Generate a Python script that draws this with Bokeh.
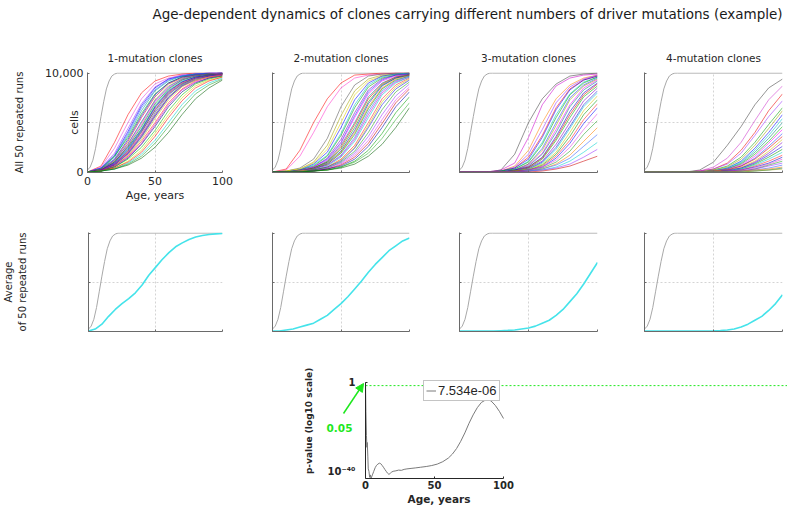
from math import pi, log10
from bokeh.plotting import figure
from bokeh.models import (FixedTicker, CustomJSTickFormatter, Legend, LegendItem, LinearAxis,
                          Arrow, NormalHead, Range1d)
from bokeh.core.properties import value
from bokeh.layouts import column, row
from bokeh.embed import file_html
from bokeh.resources import INLINE

# ---------------------------------------------------------------- data
TITLE = "Age-dependent dynamics of clones carrying different numbers of driver mutations (example)"
PANEL_TITLES = ["1-mutation clones", "2-mutation clones", "3-mutation clones", "4-mutation clones"]
ROW1_LABEL = "All 50 repeated runs"
ROW2_LABEL = "Average\nof 50 repeated runs"
Y_LABEL = "cells"
X_LABEL = "Age, years"
X_TICKS = [0, 50, 100]
Y_TICKS = [0, 5000, 10000]
Y_TICK_LABELS = {0: "0", 5000: "", 10000: "10,000"}

# ages (years) at which each run is read
AGES = [0, 10, 20, 30, 40, 50, 60, 70, 80, 90, 100]

# cell counts of each run, in thousands of cells
RUNS_1 = [
    [0, 0.6, 3.0, 5.8, 8.0, 9.2, 9.7, 9.9, 10, 10, 10],
    [0, 0.5, 2.4, 5.0, 7.4, 8.9, 9.5, 9.8, 9.9, 10, 10],
    [0, 0.4, 1.9, 4.4, 6.9, 8.6, 9.4, 9.8, 9.9, 10, 10],
    [0, 0.4, 1.7, 4.1, 6.7, 8.5, 9.4, 9.7, 9.9, 10, 10],
    [0, 0.4, 1.6, 3.9, 6.5, 8.3, 9.3, 9.7, 9.9, 10, 10],
    [0, 0.3, 1.5, 3.7, 6.2, 8.2, 9.2, 9.7, 9.9, 9.9, 10],
    [0, 0.3, 1.6, 3.5, 5.9, 7.9, 9.0, 9.6, 9.8, 9.9, 10],
    [0, 0.3, 1.3, 3.3, 5.7, 7.8, 9.0, 9.6, 9.8, 9.9, 10],
    [0, 0.2, 1.2, 3.1, 5.5, 7.6, 8.9, 9.5, 9.8, 9.9, 10],
    [0, 0.3, 1.1, 2.9, 5.0, 7.3, 8.7, 9.4, 9.7, 9.9, 9.9],
    [0, 0.2, 1.2, 2.8, 5.1, 7.2, 8.6, 9.4, 9.8, 9.9, 10],
    [0, 0.2, 1.0, 2.7, 4.8, 7.1, 8.5, 9.3, 9.7, 9.9, 10],
    [0, 0.2, 1.0, 2.6, 4.6, 6.9, 8.4, 9.3, 9.7, 9.9, 9.9],
    [0, 0.2, 0.9, 2.4, 4.4, 6.7, 8.3, 9.2, 9.6, 9.8, 9.9],
    [0, 0.2, 1.0, 2.5, 4.3, 6.6, 8.2, 9.1, 9.6, 9.8, 9.9],
    [0, 0.2, 0.9, 2.3, 4.2, 6.5, 8.1, 9.1, 9.6, 9.8, 9.9],
    [0, 0.2, 0.8, 2.1, 4.0, 6.3, 8.0, 9.0, 9.5, 9.8, 9.9],
    [0, 0.1, 0.8, 2.2, 4.1, 6.2, 7.9, 8.9, 9.5, 9.8, 9.9],
    [0, 0.2, 0.8, 2.0, 3.8, 6.0, 7.8, 8.9, 9.5, 9.7, 9.9],
    [0, 0.1, 0.7, 1.9, 3.6, 5.8, 7.6, 8.8, 9.4, 9.7, 9.9],
    [0, 0.1, 0.8, 1.9, 3.7, 5.7, 7.5, 8.7, 9.4, 9.7, 9.9],
    [0, 0.1, 0.7, 1.8, 3.5, 5.6, 7.5, 8.7, 9.3, 9.7, 9.8],
    [0, 0.1, 0.6, 1.7, 3.3, 5.4, 7.3, 8.6, 9.3, 9.6, 9.8],
    [0, 0.1, 0.6, 1.6, 3.1, 5.0, 7.0, 8.4, 9.2, 9.6, 9.8],
    [0, 0.1, 0.6, 1.5, 2.9, 4.8, 6.8, 8.3, 9.1, 9.5, 9.8],
    [0, 0.1, 0.5, 1.4, 2.8, 4.6, 6.6, 8.1, 9.0, 9.5, 9.7],
    [0, 0.1, 0.5, 1.3, 2.5, 4.2, 6.2, 7.8, 8.9, 9.4, 9.7],
    [0, 0.1, 0.4, 1.1, 2.2, 3.9, 5.8, 7.5, 8.7, 9.3, 9.6],
    [0, 0.1, 0.4, 1.0, 2.0, 3.6, 5.5, 7.2, 8.5, 9.2, 9.6],
    [0, 0.1, 0.3, 0.9, 1.8, 3.2, 5.0, 6.8, 8.2, 9.0, 9.5],
    [0, 0.1, 0.3, 0.8, 1.6, 2.9, 4.6, 6.4, 7.9, 8.8, 9.4],
    [0, 0.1, 0.3, 0.7, 1.4, 2.5, 4.0, 5.8, 7.4, 8.5, 9.3],
]
RUNS_2 = [
    [0, 0.3, 2.2, 5.0, 7.4, 9.0, 9.8, 9.9, 10, 10, 10],
    [0, 0.2, 1.6, 4.0, 6.6, 8.5, 9.5, 9.8, 9.9, 10, 10],
    [0, 0.1, 0.4, 1.3, 3.4, 6.6, 8.8, 9.7, 9.9, 10, 10],
    [0, 0.1, 0.3, 1.0, 2.7, 5.7, 8.2, 9.4, 9.8, 9.9, 10],
    [0, 0.1, 0.3, 0.9, 2.3, 5.0, 7.8, 9.2, 9.7, 9.9, 10],
    [0, 0, 0.2, 0.8, 2.0, 4.5, 7.3, 9.0, 9.7, 9.9, 10],
    [0, 0, 0.2, 0.7, 1.7, 3.9, 6.8, 8.8, 9.6, 9.9, 10],
    [0, 0, 0.2, 0.6, 1.6, 3.7, 6.5, 8.6, 9.5, 9.8, 9.9],
    [0, 0, 0.2, 0.5, 1.4, 3.3, 6.0, 8.3, 9.4, 9.8, 9.9],
    [0, 0, 0.1, 0.5, 1.3, 3.0, 5.7, 8.1, 9.3, 9.8, 9.9],
    [0, 0, 0.1, 0.5, 1.2, 2.9, 5.5, 7.9, 9.2, 9.7, 9.9],
    [0, 0, 0.1, 0.4, 1.1, 2.7, 5.0, 7.6, 9.0, 9.6, 9.9],
    [0, 0, 0.1, 0.4, 1.0, 2.5, 4.8, 7.4, 8.9, 9.6, 9.8],
    [0, 0, 0.1, 0.4, 1.0, 2.3, 4.5, 7.1, 8.8, 9.5, 9.8],
    [0, 0, 0.1, 0.3, 0.9, 2.1, 4.2, 6.9, 8.7, 9.5, 9.8],
    [0, 0, 0.1, 0.3, 0.8, 2.0, 4.0, 6.6, 8.5, 9.4, 9.8],
    [0, 0, 0.1, 0.3, 0.8, 1.9, 3.8, 6.4, 8.4, 9.3, 9.7],
    [0, 0, 0.1, 0.3, 0.7, 1.7, 3.5, 6.1, 8.2, 9.2, 9.7],
    [0, 0, 0.1, 0.3, 0.7, 1.6, 3.3, 5.8, 8.0, 9.1, 9.6],
    [0, 0, 0.1, 0.2, 0.6, 1.5, 3.1, 5.5, 7.8, 9.0, 9.6],
    [0, 0, 0.1, 0.2, 0.5, 1.3, 2.7, 5.0, 7.4, 8.8, 9.5],
    [0, 0, 0.1, 0.2, 0.5, 1.2, 2.5, 4.7, 7.1, 8.6, 9.4],
    [0, 0, 0, 0.2, 0.5, 1.1, 2.4, 4.5, 6.8, 8.4, 9.3],
    [0, 0, 0, 0.2, 0.4, 1.0, 2.1, 4.0, 6.3, 8.1, 9.1],
    [0, 0, 0, 0.1, 0.4, 0.9, 1.9, 3.6, 5.8, 7.7, 8.9],
    [0, 0, 0, 0.1, 0.3, 0.8, 1.7, 3.2, 5.3, 7.3, 8.6],
    [0, 0, 0, 0.1, 0.3, 0.7, 1.5, 2.9, 4.9, 7.0, 8.4],
    [0, 0, 0, 0.1, 0.3, 0.6, 1.3, 2.6, 4.5, 6.6, 8.1],
    [0, 0, 0, 0.1, 0.2, 0.5, 1.1, 2.2, 3.9, 6.0, 7.6],
    [0, 0, 0, 0.1, 0.2, 0.5, 1.0, 1.9, 3.4, 5.3, 7.0],
    [0, 0, 0, 0.1, 0.2, 0.4, 0.8, 1.6, 2.8, 4.5, 6.5],
]
RUNS_3 = [
    [0, 0, 0, 0.2, 1.8, 5.0, 7.4, 8.9, 9.7, 9.9, 10],
    [0, 0, 0, 0.2, 0.9, 3.5, 6.8, 8.7, 9.5, 9.8, 9.9],
    [0, 0, 0, 0.1, 0.6, 2.2, 5.0, 7.4, 8.8, 9.5, 9.8],
    [0, 0, 0, 0.1, 0.5, 1.8, 4.3, 7.0, 8.6, 9.4, 9.8],
    [0, 0, 0, 0.1, 0.4, 1.5, 3.7, 6.5, 8.4, 9.3, 9.7],
    [0, 0, 0, 0.1, 0.4, 1.3, 3.5, 6.3, 8.3, 9.3, 9.7],
    [0, 0, 0, 0.1, 0.3, 1.1, 3.0, 5.8, 7.9, 9.1, 9.6],
    [0, 0, 0, 0.1, 0.3, 1.0, 2.8, 5.5, 7.8, 9.0, 9.6],
    [0, 0, 0, 0, 0.2, 0.8, 2.4, 5.0, 7.5, 8.8, 9.5],
    [0, 0, 0, 0, 0.2, 0.8, 2.2, 4.7, 7.3, 8.7, 9.4],
    [0, 0, 0, 0, 0.2, 0.7, 1.9, 4.3, 6.8, 8.5, 9.3],
    [0, 0, 0, 0, 0.2, 0.6, 1.8, 4.0, 6.6, 8.3, 9.2],
    [0, 0, 0, 0, 0.2, 0.5, 1.5, 3.6, 6.1, 8.0, 9.0],
    [0, 0, 0, 0, 0.1, 0.5, 1.4, 3.4, 5.8, 7.8, 8.9],
    [0, 0, 0, 0, 0.1, 0.4, 1.3, 3.2, 5.5, 7.6, 8.7],
    [0, 0, 0, 0, 0.1, 0.4, 1.1, 2.8, 5.0, 7.2, 8.5],
    [0, 0, 0, 0, 0.1, 0.3, 1.0, 2.5, 4.6, 6.8, 8.2],
    [0, 0, 0, 0, 0.1, 0.3, 0.9, 2.3, 4.4, 6.6, 8.0],
    [0, 0, 0, 0, 0.1, 0.3, 0.8, 2.0, 4.0, 6.2, 7.7],
    [0, 0, 0, 0, 0.1, 0.2, 0.7, 1.8, 3.6, 5.8, 7.3],
    [0, 0, 0, 0, 0.1, 0.2, 0.6, 1.6, 3.2, 5.3, 6.9],
    [0, 0, 0, 0, 0, 0.2, 0.5, 1.4, 2.9, 4.9, 6.5],
    [0, 0, 0, 0, 0, 0.2, 0.5, 1.2, 2.5, 4.3, 5.9],
    [0, 0, 0, 0, 0, 0.1, 0.4, 1.0, 2.1, 3.8, 5.2],
    [0, 0, 0, 0, 0, 0.1, 0.3, 0.8, 1.7, 3.1, 4.5],
    [0, 0, 0, 0, 0, 0.1, 0.3, 0.7, 1.4, 2.6, 3.8],
    [0, 0, 0, 0, 0, 0.1, 0.2, 0.5, 1.1, 2.0, 3.0],
    [0, 0, 0, 0, 0, 0.1, 0.2, 0.4, 0.8, 1.5, 2.3],
    [0, 0, 0, 0, 0, 0, 0.1, 0.3, 0.6, 1.1, 1.6],
]
RUNS_4 = [
    [0, 0, 0, 0, 0.2, 1.0, 2.7, 4.6, 6.8, 8.5, 9.4],
    [0, 0, 0, 0, 0.1, 0.5, 1.4, 3.0, 5.2, 7.3, 8.7],
    [0, 0, 0, 0, 0.1, 0.3, 0.9, 2.2, 4.0, 6.2, 7.9],
    [0, 0, 0, 0, 0.1, 0.3, 0.8, 1.9, 3.7, 5.6, 7.2],
    [0, 0, 0, 0, 0, 0.2, 0.6, 1.5, 3.0, 4.8, 6.5],
    [0, 0, 0, 0, 0, 0.2, 0.5, 1.3, 2.7, 4.4, 6.2],
    [0, 0, 0, 0, 0, 0.1, 0.4, 1.1, 2.4, 4.0, 5.8],
    [0, 0, 0, 0, 0, 0.1, 0.4, 1.0, 2.2, 3.7, 5.4],
    [0, 0, 0, 0, 0, 0.1, 0.3, 0.9, 2.0, 3.4, 5.0],
    [0, 0, 0, 0, 0, 0.1, 0.3, 0.8, 1.8, 3.1, 4.6],
    [0, 0, 0, 0, 0, 0.1, 0.3, 0.7, 1.6, 2.9, 4.3],
    [0, 0, 0, 0, 0, 0.1, 0.2, 0.6, 1.4, 2.6, 3.9],
    [0, 0, 0, 0, 0, 0.1, 0.2, 0.6, 1.3, 2.4, 3.6],
    [0, 0, 0, 0, 0, 0.1, 0.2, 0.5, 1.1, 2.1, 3.3],
    [0, 0, 0, 0, 0, 0, 0.2, 0.4, 1.0, 1.9, 3.0],
    [0, 0, 0, 0, 0, 0, 0.1, 0.4, 0.9, 1.7, 2.6],
    [0, 0, 0, 0, 0, 0, 0.1, 0.3, 0.8, 1.5, 2.3],
    [0, 0, 0, 0, 0, 0, 0.1, 0.3, 0.7, 1.3, 2.0],
    [0, 0, 0, 0, 0, 0, 0.1, 0.2, 0.6, 1.1, 1.7],
    [0, 0, 0, 0, 0, 0, 0.1, 0.2, 0.5, 0.9, 1.5],
    [0, 0, 0, 0, 0, 0, 0.1, 0.2, 0.4, 0.8, 1.3],
    [0, 0, 0, 0, 0, 0, 0, 0.1, 0.3, 0.7, 1.1],
    [0, 0, 0, 0, 0, 0, 0, 0.1, 0.3, 0.6, 0.9],
    [0, 0, 0, 0, 0, 0, 0, 0.1, 0.2, 0.4, 0.7],
    [0, 0, 0, 0, 0, 0, 0, 0.1, 0.2, 0.3, 0.5],
    [0, 0, 0, 0, 0, 0, 0, 0, 0.1, 0.2, 0.4],
    [0, 0, 0, 0, 0, 0, 0, 0, 0.1, 0.2, 0.3],
]

# average of the runs (thousands of cells), read every 5 years
AVG_AGES = [0, 5, 10, 15, 20, 25, 30, 35, 40, 45, 50, 55, 60, 65, 70, 75, 80, 85, 90, 95, 100]
AVG_1 = [0, 0.2, 0.7, 1.5, 2.2, 2.8, 3.3, 3.9, 4.7, 5.7, 6.5, 7.3, 8.0, 8.6, 9.0, 9.35, 9.6, 9.75, 9.85, 9.92, 9.96]
AVG_2 = [0, 0, 0.1, 0.2, 0.4, 0.6, 0.8, 1.2, 1.6, 2.2, 2.8, 3.5, 4.3, 5.1, 6.0, 6.8, 7.5, 8.2, 8.7, 9.2, 9.5]
AVG_3 = [0, 0, 0, 0, 0, 0, 0.03, 0.06, 0.1, 0.2, 0.3, 0.5, 0.8, 1.1, 1.6, 2.2, 3.0, 3.8, 4.8, 5.9, 7.0]
AVG_4 = [0, 0, 0, 0, 0, 0, 0, 0, 0, 0, 0.02, 0.05, 0.1, 0.2, 0.4, 0.7, 1.1, 1.5, 2.1, 2.8, 3.7]

# grey reference curve (thousands of cells)
GRAY_AGES = [0, 2, 4, 6, 8, 10, 12, 14, 16, 18, 20, 22, 24, 100]
GRAY_CELLS = [0.2, 0.5, 1.2, 2.4, 4.0, 5.6, 7.1, 8.4, 9.2, 9.7, 9.9, 10, 10, 10]

# p-value (log10) over age
PV_AGES = [0, 0.3, 0.7, 1.0, 1.3, 1.7, 2.0, 2.5, 3.0, 3.5,
           4.0, 5, 6, 7, 8, 9, 10, 11, 12, 13,
           14, 15, 16, 17, 18, 19, 20, 22, 24, 26,
           28, 30, 33, 36, 40, 44, 48, 52, 56, 60,
           63, 66, 69, 72, 75, 78, 81, 84, 87, 89,
           91, 94, 97, 100]
PV_LOG10 = [0, -12, -22, -27, -25, -31, -36, -37, -39.5, -38.5,
            -40, -38.5, -37, -35.5, -34.5, -34, -33.6, -33.8, -34.5, -35.3,
            -36.2, -37, -37.8, -38.3, -37.8, -37.3, -37, -36.8, -36.5, -36.6,
            -36.2, -36, -35.8, -35.6, -35.3, -35, -34.6, -34, -33, -31.5,
            -29.8, -27.5, -24.5, -21, -17, -13.5, -10.5, -8.3, -7.3, -7.2,
            -7.7, -9.5, -12, -15]
PV_LEGEND = "7.534e-06"
P_THRESHOLD = 0.05
PV_Y_TICKS = [-40, 0]
PV_Y_TICK_LABELS = {0: "1", -40: "10\u207b\u2074\u2070\n"}
PV_Y_LABEL = "p-value (log10 scale)"

# ---------------------------------------------------------------- style
FONT = "DejaVu Sans"
TXT = "#262626"
AX = "#6a6a6a"
GRID = "#d4d4d4"
GRAY = "#a8a8a8"
CYAN = "#45e3ea"
GREEN = "#1ee81e"
RUN_COLORS = [
    ["#ff0000", "#e040e0", "#9933ff", "#0000ff", "#3050ff", "#00a0a0", "#00b000", "#0000cc",
     "#cc0033", "#a0a000", "#2060ff", "#ff00ff", "#009900", "#00cccc", "#404040", "#0000ff",
     "#e00000", "#008080", "#8000c0", "#00a000", "#d000d0", "#1010e0", "#c8c800", "#ff2020",
     "#cc00cc", "#000080", "#00c000", "#e0d000", "#ff0000", "#00d0d0", "#20a020", "#006000"],
    ["#ff0000", "#ff33cc", "#555555", "#a0a000", "#e0d000", "#0000ff", "#00c8c8", "#00a000",
     "#8000c0", "#2040ff", "#ff00ff", "#008080", "#e00000", "#00b000", "#0000cc", "#ff8000",
     "#009900", "#3060ff", "#cc00cc", "#00cccc", "#ff2020", "#c8c800", "#1010e0", "#20a020",
     "#9933ff", "#e040e0", "#cc0000", "#0000aa", "#00a000", "#30b030", "#006000"],
    ["#404040", "#cc00cc", "#ff8000", "#9933ff", "#ff0000", "#0000ff", "#00c8c8", "#00a000",
     "#2040ff", "#a0a000", "#ff00ff", "#008080", "#0000cc", "#e00000", "#00b000", "#8000c0",
     "#1010e0", "#00cccc", "#d0c000", "#009900", "#ff2020", "#0000ff", "#e040e0", "#20a020",
     "#ff8000", "#3060ff", "#00d0d0", "#9933ff", "#cc0000"],
    ["#404040", "#cc33cc", "#ee0000", "#9933ff", "#00a000", "#a0a000", "#0000ff", "#00c8c8",
     "#008080", "#00b000", "#ff00ff", "#2040ff", "#e00000", "#d0c000", "#8000c0", "#1010e0",
     "#009900", "#00cccc", "#ff2020", "#0000cc", "#e040e0", "#20a020", "#9933ff", "#3060ff",
     "#ff8000", "#008080", "#a0a000"],
]

# page geometry (px)
FIG_W = [234, 187, 188, 178]
LEFT_B = [87, 38, 38, 35]
RIGHT_B = [12, 12, 12, 5]
PAGE_W = sum(FIG_W)


def style_axes(p, show_labels):
    for ax in (p.xaxis[0], p.yaxis[0]):
        ax.axis_line_color = AX
        ax.major_tick_line_color = AX
        ax.major_tick_in = 2
        ax.major_tick_out = 0
        ax.minor_tick_line_color = None
        ax.major_label_text_font = FONT
        ax.major_label_text_font_size = "11px"
        ax.major_label_text_color = TXT
        ax.axis_label_text_font = FONT
        ax.axis_label_text_font_size = "11px"
        ax.axis_label_text_font_style = "normal"
        ax.axis_label_text_color = TXT
    p.xaxis.ticker = FixedTicker(ticks=X_TICKS)
    p.yaxis.ticker = FixedTicker(ticks=Y_TICKS)
    if show_labels:
        p.xaxis.major_label_standoff = 4
        p.yaxis.major_label_standoff = 4
        p.yaxis.major_label_overrides = Y_TICK_LABELS
        p.xaxis.axis_label = X_LABEL
        p.xaxis.axis_label_standoff = 1
    else:
        p.xaxis.major_label_standoff = 0
        p.yaxis.major_label_standoff = 0
        p.xaxis.formatter = CustomJSTickFormatter(code="return ''")
        p.yaxis.formatter = CustomJSTickFormatter(code="return ''")
    p.xgrid.ticker = FixedTicker(ticks=[50])
    p.ygrid.ticker = FixedTicker(ticks=[5000])
    p.grid.grid_line_color = GRID
    p.grid.grid_line_dash = "2 2"


def panel(i, top_row):
    h = 187 if top_row else 140
    tb = 47 if top_row else 20
    bb = 40 if top_row else 21
    p = figure(width=FIG_W[i], height=h, output_backend="svg", toolbar_location=None,
               x_range=Range1d(0, 100), y_range=Range1d(-50, 10060),
               min_border_left=LEFT_B[i], min_border_right=RIGHT_B[i],
               min_border_top=tb, min_border_bottom=bb)
    p.outline_line_color = None
    style_axes(p, show_labels=(top_row and i == 0))
    p.line(GRAY_AGES, [v * 1000 for v in GRAY_CELLS], line_color=GRAY, line_width=1)
    if top_row:
        runs = [RUNS_1, RUNS_2, RUNS_3, RUNS_4][i]
        p.multi_line([AGES] * len(runs), [[v * 1000 for v in r] for r in runs],
                     line_color=RUN_COLORS[i][:len(runs)], line_width=0.7, line_alpha=0.8)
        p.title.text = PANEL_TITLES[i]
        p.title.align = "center"
        p.title.text_font = FONT
        p.title.text_font_size = "10.5px"
        p.title.text_font_style = "normal"
        p.title.text_color = TXT
        p.title.standoff = 18
    else:
        avg = [AVG_1, AVG_2, AVG_3, AVG_4][i]
        p.line(AVG_AGES, [v * 1000 for v in avg], line_color=CYAN, line_width=1.6)
    if i == 0 and top_row:
        p.yaxis.axis_label = Y_LABEL
        p.yaxis.axis_label_standoff = -39
        outer = LinearAxis(ticker=FixedTicker(ticks=[]), axis_line_color=None,
                           major_tick_line_color=None, minor_tick_line_color=None,
                           major_label_standoff=0, axis_label=ROW1_LABEL,
                           axis_label_standoff=41, axis_label_text_font=FONT,
                           axis_label_text_font_size="10px", axis_label_text_font_style="normal",
                           axis_label_text_color=TXT)
        p.add_layout(outer, "left")
    if i == 0 and not top_row:
        p.yaxis.axis_label = ROW2_LABEL
        p.yaxis.axis_label_standoff = 61
        p.yaxis.axis_label_text_font_size = "10px"
    return p


# p-value panel geometry: its frame is widened to the left and upwards so that the
# y axis (fixed at age 0), its texts, the arrow and the threshold text sit inside it
PV_TOP = 352
PV_AXIS_X = 365
PV_FRAME_LEFT = 90
PV_FRAME_TOP = 360
PV_ZERO_Y = 382
PV_BOTTOM_Y = 478

# title strip (its frame is aligned by the column with the p-value frame)
TITLE_X = 153
tfig = figure(width=PAGE_W, height=25, output_backend="svg", toolbar_location=None,
              x_range=Range1d(0, 1), y_range=Range1d(0, 1), min_border_left=0,
              min_border_right=0, min_border_top=21, min_border_bottom=0,
              x_axis_type=None, y_axis_type=None, title=TITLE)
tfig.outline_line_color = None
tfig.grid.visible = False
tfig.title.align = "left"
tfig.title.offset = TITLE_X - PV_FRAME_LEFT - 1
tfig.title.standoff = 0
tfig.title.text_font = FONT
tfig.title.text_font_size = "13.5px"
tfig.title.text_font_style = "normal"
tfig.title.text_color = "#1a1a1a"

row1 = row(*[panel(i, True) for i in range(4)])
row2 = row(*[panel(i, False) for i in range(4)])

PX_PER_YEAR = 138 / 100
PX_PER_UNIT = (PV_BOTTOM_Y - PV_ZERO_Y) / 40
x_start = -(PV_AXIS_X - PV_FRAME_LEFT) / PX_PER_YEAR
x_end = (PAGE_W - PV_AXIS_X) / PX_PER_YEAR
y_top = (PV_ZERO_Y - PV_FRAME_TOP) / PX_PER_UNIT
pv = figure(width=PAGE_W, height=511 - PV_TOP, output_backend="svg", toolbar_location=None,
            x_range=Range1d(x_start, x_end), y_range=Range1d(-40, y_top),
            min_border_left=PV_FRAME_LEFT, min_border_right=0,
            min_border_top=PV_FRAME_TOP - PV_TOP, min_border_bottom=511 - PV_BOTTOM_Y,
            y_axis_type=None)
pv.outline_line_color = None
pv.grid.visible = False
yax = LinearAxis(fixed_location=0)
pv.add_layout(yax, "left")
for ax in (pv.xaxis[0], yax):
    ax.axis_line_color = TXT
    ax.major_tick_line_color = TXT
    ax.major_tick_in = 2
    ax.major_tick_out = 0
    ax.minor_tick_line_color = None
    ax.major_label_text_font = FONT
    ax.major_label_text_font_style = "bold"
    ax.major_label_text_font_size = "10px"
    ax.major_label_text_color = TXT
    ax.axis_label_text_font = FONT
    ax.axis_label_text_font_style = "bold"
    ax.axis_label_text_color = TXT
pv.xaxis.bounds = (0, 100)
pv.xaxis.ticker = FixedTicker(ticks=X_TICKS)
pv.xaxis.major_label_standoff = 2
pv.xaxis.axis_label = X_LABEL
pv.xaxis.axis_label_text_font_size = "10.5px"
pv.xaxis.axis_label_standoff = 1
yax.bounds = (-40, 0)
yax.ticker = FixedTicker(ticks=PV_Y_TICKS)
yax.major_label_overrides = PV_Y_TICK_LABELS
yax.major_label_standoff = 10

thr = log10(P_THRESHOLD)
pv.segment(x0=[0], y0=[thr], x1=[x_end], y1=[thr], line_color=GREEN, line_dash="2 2",
           line_width=1)
pv_r = pv.line(PV_AGES, PV_LOG10, line_color="#7a7a7a", line_width=1)
leg = Legend(items=[LegendItem(label=PV_LEGEND, renderers=[pv_r])],
             location=(PV_AXIS_X - PV_FRAME_LEFT + 138 - 81 + 1, 77),
             label_text_font="Liberation Sans", label_text_font_size="13px",
             label_text_color=TXT, glyph_width=10, glyph_height=13, label_height=13,
             label_standoff=2, padding=2, spacing=0, margin=0,
             border_line_color="#8a8a8a", background_fill_alpha=1)
pv.add_layout(leg)

pv.add_layout(Arrow(x_start=-22 / PX_PER_YEAR, y_start=-31 / PX_PER_UNIT,
                    x_end=-2 / PX_PER_YEAR, y_end=-1 / PX_PER_UNIT,
                    line_color=GREEN, line_width=1.5,
                    end=NormalHead(size=8, fill_color=GREEN, line_color=GREEN)))
pv.text(x=[-26 / PX_PER_YEAR], y=[-45 / PX_PER_UNIT], text=[f"{P_THRESHOLD}"],
        text_align="center", text_baseline="middle", text_font=value(FONT),
        text_font_style="bold", text_font_size="10.5px", text_color=GREEN)
pv.text(x=[-57 / PX_PER_YEAR], y=[-16], text=[PV_Y_LABEL], angle=pi / 2,
        text_align="center", text_baseline="middle", text_font=value(FONT),
        text_font_style="bold", text_font_size="9px", text_color=TXT)

layout = column(tfig, row1, row2, pv)
open("out.html", "w").write(file_html(layout, INLINE))
